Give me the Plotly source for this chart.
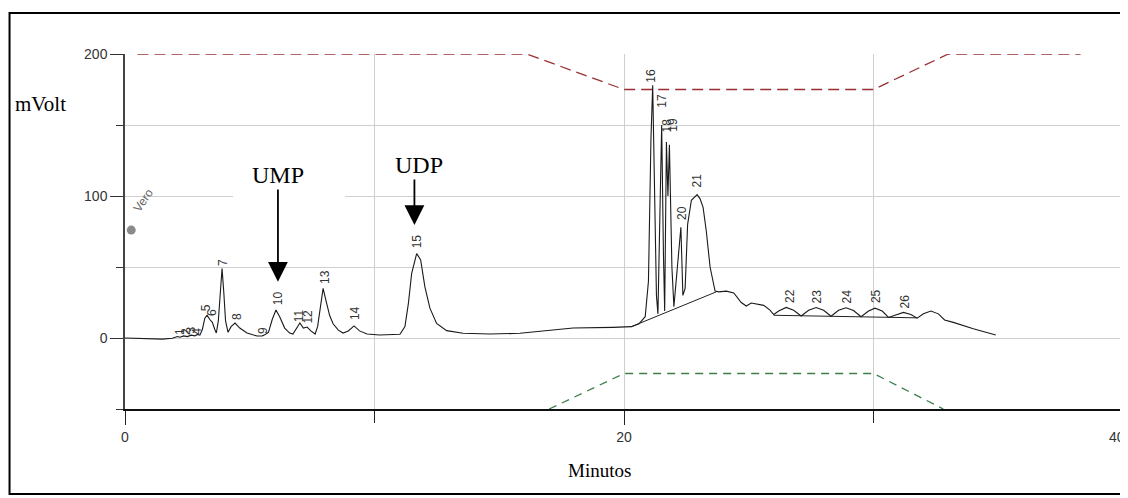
import plotly.graph_objects as go

# ---- chromatogram signal (minutes, mVolt) ----
sig_t = [0.0, 0.5, 1.0, 1.5, 1.9, 2.1, 2.2, 2.35, 2.5, 2.65, 2.8, 2.9, 3.0, 3.1, 3.2, 3.29, 3.4, 3.5, 3.6, 3.66,
         3.74, 3.82, 3.89, 3.96, 4.03, 4.13, 4.25, 4.41, 4.6, 4.89, 5.29, 5.5, 5.6, 5.75, 5.9, 6.05, 6.2, 6.4,
         6.6, 6.73, 6.9, 7.01, 7.15, 7.3, 7.45, 7.62, 7.72, 7.82, 7.94, 8.06, 8.2, 8.34, 8.55, 8.74, 8.95, 9.18,
         9.4, 9.7, 10.2, 11.02, 11.22, 11.36, 11.49, 11.69, 11.85, 12.02, 12.22, 12.49, 12.89, 13.55, 14.63,
         15.83, 16.9, 17.96, 19.56, 20.0, 20.3, 20.6, 20.85, 20.98, 21.08, 21.15, 21.22, 21.3, 21.36, 21.44,
         21.51, 21.58, 21.63, 21.7, 21.76, 21.82, 21.92, 22.0, 22.2, 22.28, 22.36, 22.45, 22.55, 22.7, 22.93,
         23.05, 23.17, 23.3, 23.45, 23.65, 23.8, 24.1, 24.4, 24.7, 24.9, 25.1, 25.6, 25.85, 26.0, 26.2, 26.5,
         26.8, 27.1, 27.4, 27.7, 28.0, 28.3, 28.6, 28.9, 29.2, 29.5, 29.8, 30.06, 30.35, 30.6, 30.9, 31.2,
         31.5, 31.75, 32.0, 32.3, 32.6, 32.85, 33.2, 34.0, 34.9]
sig_mv = [0.0, -0.3, -0.8, -0.8, -0.2, 1.0, 0.5, 1.5, 1.0, 2.0, 1.5, 2.5, 2.0, 6.0, 14.0, 16.0, 13.0, 11.0, 6.0, 3.5,
          12.0, 35.0, 49.0, 32.0, 12.0, 4.0, 8.0, 10.5, 7.0, 3.5, 1.4, 1.5, 2.2, 4.0, 13.0, 19.7, 15.0, 7.0,
          3.5, 2.8, 8.0, 10.6, 7.0, 7.7, 5.0, 2.8, 8.0, 22.0, 35.0, 26.0, 16.0, 10.0, 5.5, 3.5, 5.0, 8.5,
          5.0, 2.8, 2.1, 2.6, 8.0, 24.6, 45.6, 59.5, 55.0, 36.0, 21.0, 10.3, 5.2, 3.3, 2.8,
          3.3, 5.2, 7.0, 7.5, 7.7, 8.0, 10.0, 15.0, 40.0, 140.0, 178.0, 120.0, 30.0, 17.0, 100.0,
          150.0, 60.0, 19.0, 138.0, 100.0, 136.0, 50.0, 22.0, 60.0, 78.0, 30.0, 35.0, 80.0, 97.0, 101.0,
          98.0, 92.0, 75.0, 50.0, 33.0, 32.5, 33.0, 31.7, 25.0, 22.5, 24.6, 23.0, 19.7, 16.5, 19.0, 21.5,
          19.5, 15.5, 19.5, 21.5, 19.5, 15.3, 19.5, 21.3, 19.3, 15.0, 19.0, 21.0, 19.0, 14.5, 16.5, 18.0,
          16.5, 14.0, 17.0, 19.0, 17.0, 12.7, 11.0, 6.5, 2.1]

# integration baselines
base1_t = [20.3, 23.7]
base1_mv = [8.0, 32.5]
base2_t = [26.0, 31.75]
base2_mv = [16.0, 14.2]

# gradient program lines
red_t = [0.5, 16.1, 20.0, 30.0, 33.0, 38.3]
red_mv = [200, 200, 175, 175, 200, 200]
green_t = [17.0, 20.0, 30.0, 32.8]
green_mv = [-50, -25, -25, -50]

# peak number labels (centre positions)
lab_txt = ["1", "2", "3", "4", "5", "6", "7", "8", "9", "10", "11", "12", "13", "14", "15", "16", "17",
           "18", "19", "20", "21", "22", "23", "24", "25", "26"]
lab_t = [2.18, 2.42, 2.66, 2.88, 3.25, 3.49, 3.93, 4.49, 5.53, 6.13, 6.97, 7.33, 8.02, 9.22, 11.74, 21.1,
         21.52, 21.74, 21.95, 22.32, 22.93, 26.65, 27.75, 28.95, 30.1, 31.25]
lab_mv = [4.5, 4.5, 5.5, 5.0, 21.0, 17.6, 52.8, 14.8, 5.6, 28.0, 16.0, 15.0, 43.0, 17.6, 68.0, 185.0,
          167.0, 150.0, 150.0, 88.0, 111.0, 29.5, 29.5, 29.5, 29.5, 25.5]

x_major = [0, 20, 40]
x_major_text = ["0", "20", ""]   # "40" drawn as an annotation so it stays inside the page
y_major = [0, 100, 200]

fig = go.Figure()

fig.add_trace(go.Scatter(x=red_t, y=red_mv, mode="lines",
                         line=dict(color="#9b2f33", width=1.3, dash="11px,6px"), hoverinfo="skip"))
fig.add_trace(go.Scatter(x=green_t, y=green_mv, mode="lines",
                         line=dict(color="#3d7f4a", width=1.3, dash="8px,6px"), hoverinfo="skip"))
fig.add_trace(go.Scatter(x=base1_t, y=base1_mv, mode="lines",
                         line=dict(color="#222", width=1), hoverinfo="skip"))
fig.add_trace(go.Scatter(x=base2_t, y=base2_mv, mode="lines",
                         line=dict(color="#222", width=1), hoverinfo="skip"))
fig.add_trace(go.Scatter(x=sig_t, y=sig_mv, mode="lines",
                         line=dict(color="#1a1a1a", width=1.1)))
fig.add_trace(go.Scatter(x=[0.25], y=[76], mode="markers",
                         marker=dict(color="#8a8a8a", size=9, symbol="circle"), hoverinfo="skip"))

anns = []
for t, v, s in zip(lab_t, lab_mv, lab_txt):
    anns.append(dict(x=t, y=v, text=s, showarrow=False, textangle=-90,
                     font=dict(family="Liberation Sans, Arial", size=12, color="#333"),
                     xanchor="center", yanchor="middle"))

serif = "Liberation Serif, Times New Roman"
tickfont = dict(family="Liberation Sans Narrow, Arial Narrow, Liberation Sans", size=14, color="#333")
anns += [
    dict(x=0.75, y=97, text="Vero", showarrow=False, textangle=-55,
         font=dict(family="Liberation Sans, Arial", size=12, color="#666")),
    dict(xref="paper", yref="paper", x=-0.1125, y=0.859, text="mVolt", showarrow=False,
         xanchor="left", yanchor="middle", font=dict(family=serif, size=21, color="#000")),
    dict(x=19.0, xref="x", yref="paper", y=-0.172, text="Minutos", showarrow=False,
         yanchor="middle", font=dict(family=serif, size=19, color="#000")),
    dict(xref="paper", yref="paper", x=1.004, y=-0.08, text="40", showarrow=False,
         xanchor="right", yanchor="middle", font=tickfont),
    dict(x=6.13, y=114.5, text="UMP", showarrow=False, yanchor="middle",
         font=dict(family=serif, size=24, color="#000")),
    dict(x=11.78, y=121.8, text="UDP", showarrow=False, yanchor="middle",
         font=dict(family=serif, size=24, color="#000")),
    dict(x=6.13, y=39.6, ax=6.13, ay=105.6, axref="x", ayref="y", text="", showarrow=True,
         arrowhead=2, arrowsize=2.2, arrowwidth=1.8, arrowcolor="#000"),
    dict(x=11.6, y=79.6, ax=11.6, ay=112.7, axref="x", ayref="y", text="", showarrow=True,
         arrowhead=2, arrowsize=2.2, arrowwidth=1.8, arrowcolor="#000"),
]

shapes = [
    dict(type="rect", xref="x", yref="y", x0=4.33, x1=8.82, y0=92, y1=130,
         fillcolor="white", line=dict(width=0), layer="between"),
    dict(type="rect", xref="paper", yref="paper", x0=-0.1157, x1=0.998, y0=-0.2394, y1=1.1155,
         line=dict(color="#000", width=2), fillcolor="rgba(0,0,0,0)", layer="above"),
]

fig.update_layout(
    width=1120, height=490,
    margin=dict(l=117, r=5, t=46, b=89, autoexpand=False),
    paper_bgcolor="white", plot_bgcolor="white",
    showlegend=False,
    annotations=anns, shapes=shapes,
    xaxis=dict(range=[0, 40], tickvals=x_major, ticktext=x_major_text,
               ticks="outside", ticklen=14, tickwidth=1, tickcolor="#222",
               automargin=False,
               showline=True, linecolor="#111", linewidth=2, zeroline=False,
               showgrid=True, gridcolor="#cfcfcf", gridwidth=1,
               minor=dict(tickvals=[10, 30], ticks="outside", ticklen=12, tickcolor="#222",
                          showgrid=True, gridcolor="#cfcfcf"),
               tickfont=tickfont),
    yaxis=dict(range=[-50, 200], tickvals=y_major, ticktext=[str(v) for v in y_major],
               ticks="outside", ticklen=13, tickwidth=1, tickcolor="#333", automargin=False,
               showline=True, linecolor="#444", linewidth=1.5, zeroline=False,
               showgrid=True, gridcolor="#cfcfcf", gridwidth=1,
               minor=dict(tickvals=[-50, 50, 150], ticks="outside", ticklen=7, tickcolor="#333",
                          showgrid=True, gridcolor="#cfcfcf"),
               tickfont=tickfont),
)

fig.write_html("out.html")
